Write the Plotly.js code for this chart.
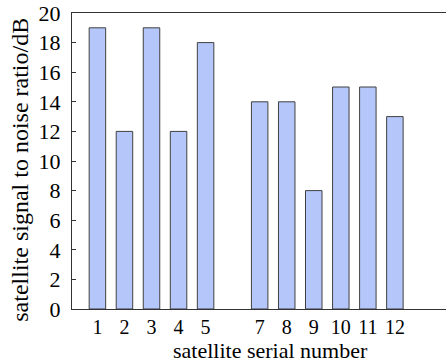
<!DOCTYPE html>
<html><head><meta charset="utf-8">
<script src="https://cdn.plot.ly/plotly-3.0.1.min.js"></script>
<style>html,body{margin:0;padding:0;overflow:hidden;background:#fff}</style>
</head><body><div id="chart" style="width:446px;height:363px"></div>
<script>
const satellites = [1, 2, 3, 4, 5, 7, 8, 9, 10, 11, 12];
const snr = [19, 12, 19, 12, 18, 14, 14, 8, 15, 15, 13];
const yTicks = [0, 2, 4, 6, 8, 10, 12, 14, 16, 18, 20];
const xTitle = 'satellite serial number';
const yTitle = 'satellite signal to noise ratio/dB';

const font = {family: '"Liberation Serif", "Times New Roman", serif', color: '#000'};

Plotly.newPlot('chart', [{
  type: 'bar',
  x: satellites,
  y: snr,
  width: 0.61,
  marker: {color: '#b4c6fa', line: {color: '#404040', width: 1}},
  hoverinfo: 'none'
}], {
  width: 446, height: 363,
  margin: {l: 72, r: 0, t: 13, b: 54},
  paper_bgcolor: '#fff', plot_bgcolor: '#fff',
  font: Object.assign({size: 22}, font),
  showlegend: false,
  xaxis: {
    range: [0.06, 13.89],
    tickvals: satellites,
    ticktext: satellites.map(String),
    ticks: '', showgrid: false, zeroline: false,
    showline: true, linecolor: '#333', linewidth: 1, mirror: true,
    ticklabelstandoff: 0,
    tickfont: Object.assign({size: 20}, font)
  },
  yaxis: {
    range: [0, 20],
    tickvals: yTicks,
    ticktext: yTicks.map(String),
    ticks: 'inside', ticklen: 4, tickcolor: '#333',
    showgrid: false, zeroline: false,
    showline: true, linecolor: '#333', linewidth: 1,
    ticklabelstandoff: 6,
    tickfont: Object.assign({size: 22}, font)
  },
  annotations: [{
    text: xTitle, xref: 'paper', yref: 'paper',
    x: (270 - 72) / 374, y: 0, yshift: -41, xanchor: 'center', yanchor: 'middle',
    showarrow: false, font: Object.assign({size: 22}, font)
  }, {
    text: yTitle, xref: 'paper', yref: 'paper', textangle: -90,
    x: 0, xshift: -52, y: (309.5 - 170) / 296.5, xanchor: 'center', yanchor: 'middle',
    showarrow: false, font: Object.assign({size: 24}, font)
  }]
}, {staticPlot: true});
</script></body></html>
